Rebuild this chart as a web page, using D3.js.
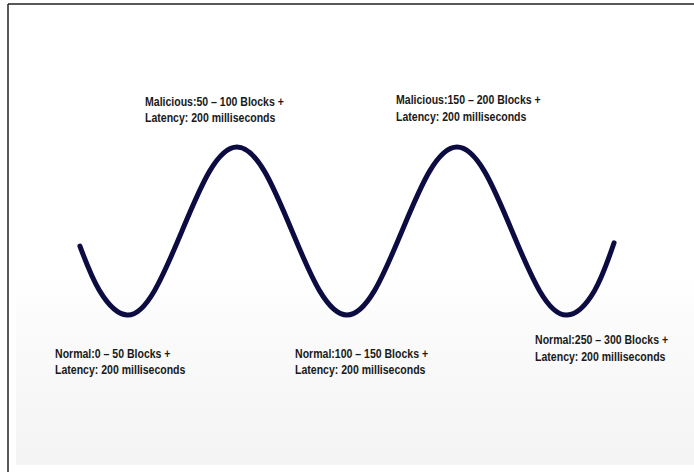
<!DOCTYPE html>
<html>
<head>
<meta charset="utf-8">
<script src="https://cdn.jsdelivr.net/npm/d3@7"></script>
<style>
  html, body { margin: 0; padding: 0; background: #ffffff; }
  svg { display: block; }
</style>
</head>
<body>
<svg id="chart" width="694" height="472"></svg>
<script>
// ---- data ----
// position along the block axis
const blockPos = [3.6, 12.5, 25, 37.5, 50, 62.5, 75, 87.5, 100, 112.5, 125, 137.5, 150, 162.5, 175, 187.5, 200, 212.5, 225, 237.5, 246.4];
// relative level of the wave (-1 = normal trough, 1 = malicious peak)
const waveLevel = [-0.18, -0.71, -1, -0.71, 0, 0.71, 1, 0.71, 0, -0.71, -1, -0.71, 0, 0.71, 1, 0.71, 0, -0.71, -1, -0.71, -0.14];

const labelLine1 = ["Normal:0 \u2013 50 Blocks +", "Malicious:50 \u2013 100 Blocks +", "Normal:100 \u2013 150 Blocks +", "Malicious:150 \u2013 200 Blocks +", "Normal:250 \u2013 300 Blocks +"];
const labelLine2 = ["Latency: 200 milliseconds", "Latency: 200 milliseconds", "Latency: 200 milliseconds", "Latency: 200 milliseconds", "Latency: 200 milliseconds"];
// anchor of each label in data units (block position, level)
const labelBlock = [-7.7, 33.2, 101.4, 147.3, 210.5];
const labelLevel = [-1.51, 1.49, -1.51, 1.51, -1.35];

// ---- layout ----
const svg = d3.select("#chart");
const W = 694, H = 472;

const x = d3.scaleLinear().domain([0, 300]).range([72, 72 + 300 * 2.2]);
const y = d3.scaleLinear().domain([-1, 1]).range([315, 147]);

// background panel with gradient
const defs = svg.append("defs");
const grad = defs.append("linearGradient").attr("id", "bg").attr("x1", 0).attr("y1", 0).attr("x2", 0).attr("y2", 1);
grad.append("stop").attr("offset", "0%").attr("stop-color", "#ffffff");
grad.append("stop").attr("offset", "58%").attr("stop-color", "#ffffff");
grad.append("stop").attr("offset", "72%").attr("stop-color", "#f9faf9");
grad.append("stop").attr("offset", "100%").attr("stop-color", "#f3f4f3");

svg.append("rect").attr("x", 0).attr("y", 0).attr("width", W).attr("height", H).attr("fill", "#ffffff");
svg.append("rect").attr("x", 16).attr("y", 12).attr("width", W - 16).attr("height", 453).attr("fill", "url(#bg)");

// frame lines (left and top)
svg.append("line").attr("x1", 8).attr("y1", 4).attr("x2", W).attr("y2", 4)
  .attr("stroke", "#222").attr("stroke-width", 1.5);
svg.append("line").attr("x1", 8).attr("y1", 4).attr("x2", 8).attr("y2", H)
  .attr("stroke", "#222").attr("stroke-width", 1.5);

// wave
const pts = blockPos.map((b, i) => [b, waveLevel[i]]);
const line = d3.line().x(d => x(d[0])).y(d => y(d[1])).curve(d3.curveNatural);
svg.append("path").datum(pts)
  .attr("d", line)
  .attr("fill", "none")
  .attr("stroke", "#0c0c42")
  .attr("stroke-width", 5)
  .attr("stroke-linecap", "round")
  .attr("stroke-linejoin", "round");

// labels (condensed bold look via horizontal scaling)
const squeeze = 0.81;
const g = svg.append("g")
  .attr("font-family", "'Liberation Sans', Arial, sans-serif")
  .attr("font-weight", "bold")
  .attr("font-size", 13)
  .attr("fill", "#1a1a1a");

labelLine1.forEach((t, i) => {
  const tx = x(labelBlock[i]);
  const ty = y(labelLevel[i]);
  const txt = g.append("text")
    .attr("transform", `translate(${tx},${ty}) scale(${squeeze},1)`)
    .attr("x", 0).attr("y", 0);
  txt.append("tspan").attr("x", 0).attr("dy", 0).text(t);
  txt.append("tspan").attr("x", 0).attr("dy", 16.5).text(labelLine2[i]);
});
</script>
</body>
</html>
